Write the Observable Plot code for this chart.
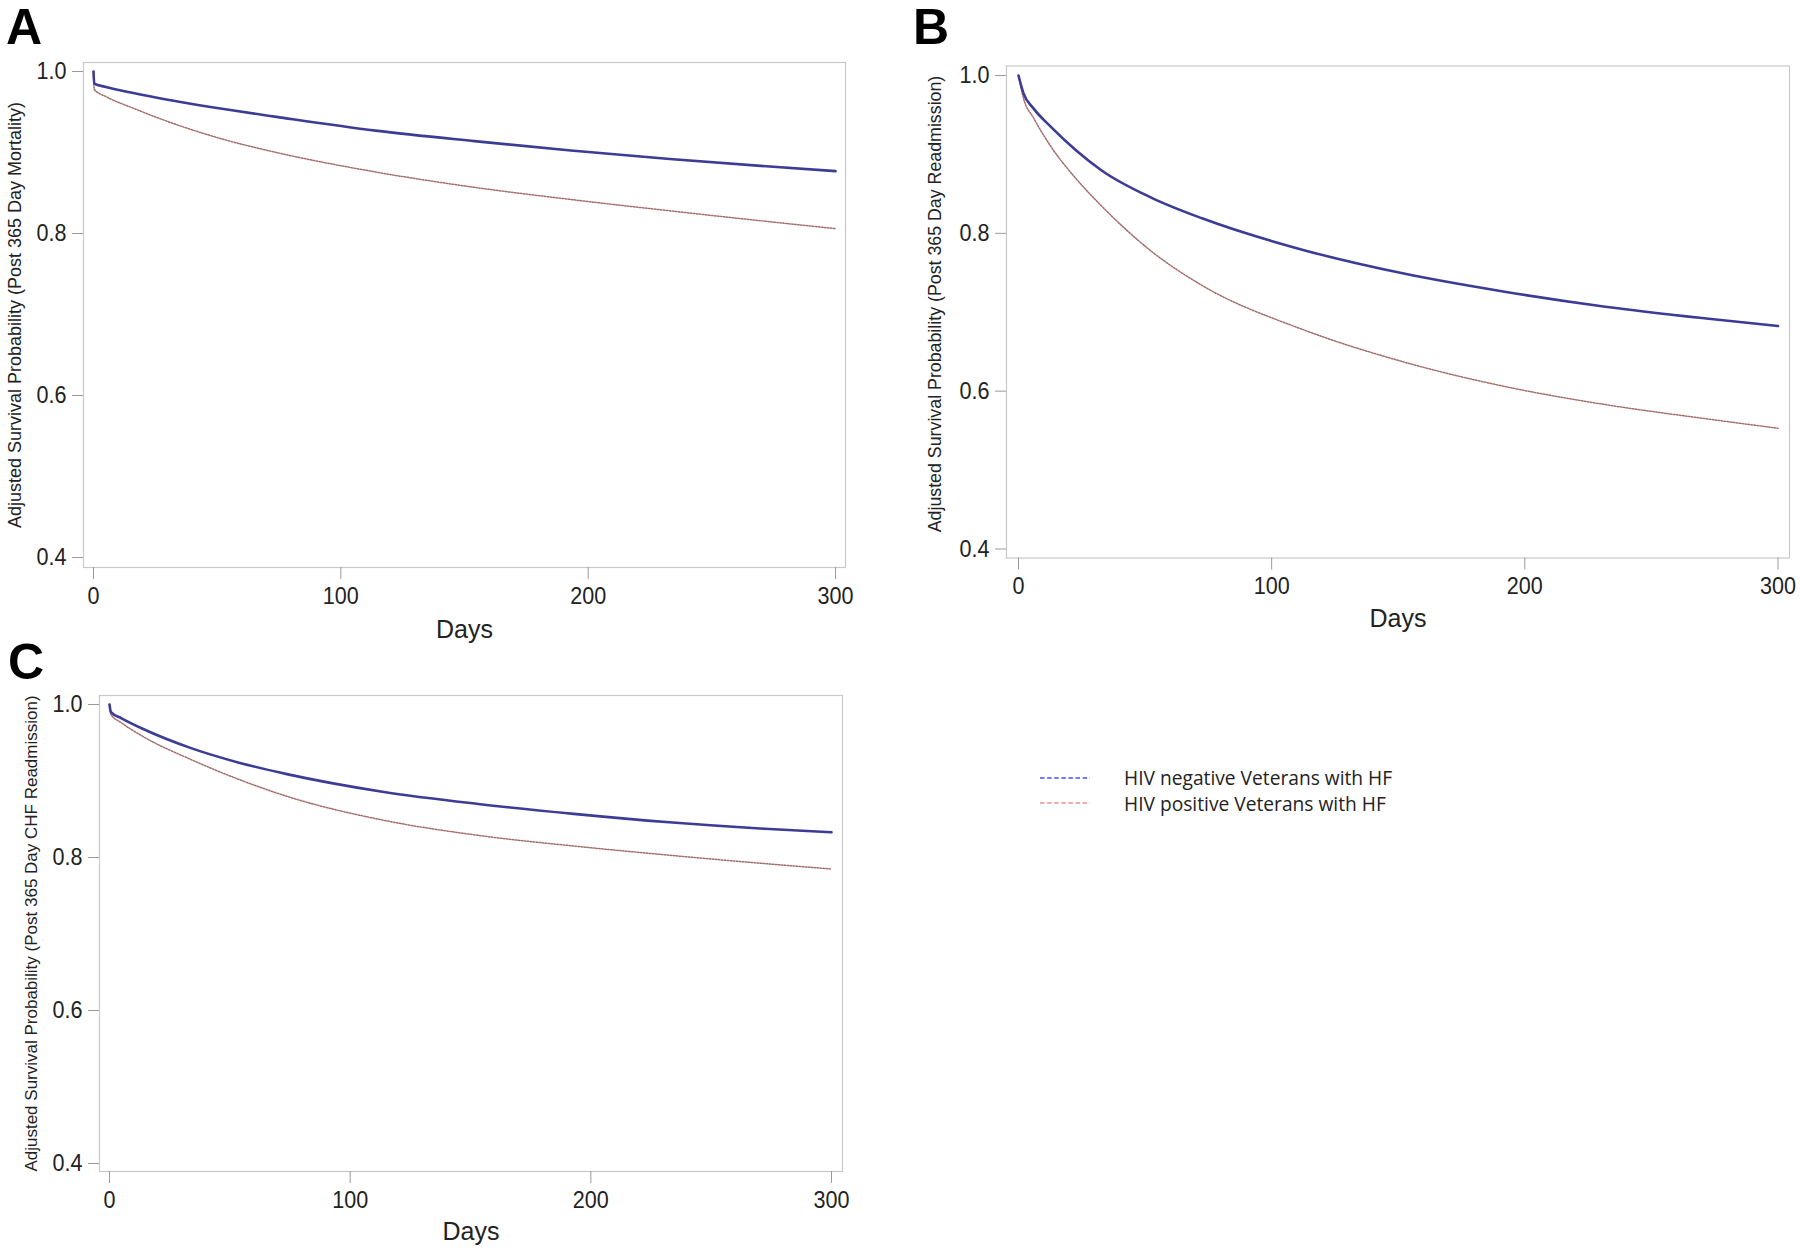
<!DOCTYPE html>
<html><head><meta charset="utf-8">
<script src="https://cdn.jsdelivr.net/npm/d3@7"></script>
<script src="https://cdn.jsdelivr.net/npm/@observablehq/plot@0.6"></script>
<style>
body{margin:0;background:#fff;}
#root{position:relative;width:1800px;height:1248px;overflow:hidden;background:#fff;}
.panel{position:absolute;}
.letter{position:absolute;font:bold 50px 'Liberation Sans',Arial,sans-serif;line-height:50px;color:#000;}
.legrow{position:absolute;display:flex;align-items:center;height:24px;font-family:'Open Sans',sans-serif;font-size:19.2px;color:#222;white-space:nowrap;}
.legrow svg{margin-right:34px;}
</style></head><body><div id="root"></div><script>
// ---- data ----
const ticksX = [0, 100, 200, 300];
const ticksY = [0.4, 0.6, 0.8, 1.0];
const seriesNames = ["HIV negative Veterans with HF", "HIV positive Veterans with HF"];
const panelLetters = ["A", "B", "C"];
const yLabels = [
  "Adjusted Survival Probability (Post 365 Day Mortality)",
  "Adjusted Survival Probability (Post 365 Day Readmission)",
  "Adjusted Survival Probability (Post 365 Day CHF Readmission)"
];
const xLabel = "Days";

const daysA   = [0, 0.3, 5, 15, 34, 54, 74, 114, 154, 193, 233, 272, 300];
const hivNegA = [1.0, 0.985, 0.981, 0.974, 0.963, 0.953, 0.944, 0.927, 0.914, 0.9025, 0.892, 0.883, 0.877];
const hivPosA = [1.0, 0.978, 0.969, 0.956, 0.934, 0.915, 0.900, 0.876, 0.857, 0.842, 0.828, 0.815, 0.806];

const daysB   = [0, 1.9, 6, 12.8, 22.8, 32.7, 52.6, 72.5, 112.4, 152.2, 192, 231.8, 271.7, 300];
const hivNegB = [1.0, 0.978, 0.958, 0.935, 0.905, 0.880, 0.845, 0.819, 0.779, 0.749, 0.726, 0.707, 0.692, 0.6825];
const hivPosB = [1.0, 0.972, 0.946, 0.910, 0.869, 0.835, 0.777, 0.734, 0.678, 0.637, 0.606, 0.583, 0.565, 0.553];

const daysC   = [0, 0.6, 5, 14, 33.9, 53.8, 73.7, 113.4, 153.1, 192.9, 232.6, 272.3, 300];
const hivNegC = [1.0, 0.990, 0.982, 0.968, 0.943, 0.924, 0.909, 0.886, 0.870, 0.857, 0.846, 0.8375, 0.833];
const hivPosC = [1.0, 0.987, 0.976, 0.958, 0.928, 0.902, 0.880, 0.849, 0.829, 0.815, 0.803, 0.792, 0.785];

// ---- layout ----
const baseFont = "'Liberation Sans',Arial,sans-serif";
const negColor = "#3c3c96", posColor = "#a46d6d";

const panels = [
  {days: daysA, neg: hivNegA, pos: hivPosA, ylabel: yLabels[0], letter: panelLetters[0],
   left: 0, top: 0, width: 880, height: 650, mL: 83, mR: 35, mT: 62, mB: 83,
   iL: 10, iR: 10, iT: 9, iB: 10, ylDx: -68, ylDy: 0, ylSize: 18, dDy: 62, letterLeft: 6, letterTop: 2},
  {days: daysB, neg: hivNegB, pos: hivPosB, ylabel: yLabels[1], letter: panelLetters[1],
   left: 900, top: 0, width: 900, height: 640, mL: 106, mR: 11, mT: 65.5, mB: 82.5,
   iL: 12, iR: 11.5, iT: 9.5, iB: 9, ylDx: -71.5, ylDy: -8, ylSize: 17.8, dDy: 61, letterLeft: 913, letterTop: 2},
  {days: daysC, neg: hivNegC, pos: hivPosC, ylabel: yLabels[2], letter: panelLetters[2],
   left: 0, top: 640, width: 880, height: 608, mL: 99, mR: 38, mT: 55, mB: 77,
   iL: 10, iR: 11, iT: 9, iB: 8, ylDx: -68, ylDy: 0, ylSize: 17, dDy: 60, letterLeft: 8, letterTop: 637}
];

const root = document.getElementById("root");

function condense(svg, selector, k) {
  svg.querySelectorAll(selector).forEach(t => {
    const tr = t.getAttribute("transform");
    if (tr && tr.includes("translate")) t.setAttribute("transform", tr + ` scale(${k},1)`);
  });
}

for (const p of panels) {
  const negData = p.days.map((d, i) => ({day: d, v: p.neg[i], g: seriesNames[0]}));
  const posData = p.days.map((d, i) => ({day: d, v: p.pos[i], g: seriesNames[1]}));
  const chart = Plot.plot({
    width: p.width, height: p.height,
    marginLeft: p.mL, marginRight: p.mR, marginTop: p.mT, marginBottom: p.mB,
    style: {fontFamily: baseFont, background: "transparent", overflow: "visible"},
    x: {domain: [0, 300], insetLeft: p.iL, insetRight: p.iR},
    y: {domain: [0.4, 1.0], insetTop: p.iT, insetBottom: p.iB},
    marks: [
      Plot.frame({stroke: "#c8c8c8", strokeWidth: 1.2}),
      Plot.axisX(ticksX, {tickSize: 12, tickPadding: 7, fontSize: 24.5, stroke: "#9a9a9a", fill: "#222",
        tickFormat: d => String(d), label: null}),
      Plot.axisY(ticksY, {tickSize: 11, tickPadding: 6, fontSize: 24.5, stroke: "#9a9a9a", fill: "#222",
        tickFormat: d3.format(".1f"), label: null}),
      Plot.line(posData, {x: "day", y: "v", stroke: posColor, strokeWidth: 1.5,
        strokeDasharray: "1.5,1.5", curve: "monotone-x"}),
      Plot.line(negData, {x: "day", y: "v", stroke: negColor, strokeWidth: 2.6, curve: "monotone-x"}),
      Plot.text([p.ylabel], {frameAnchor: "left", textAnchor: "middle", lineAnchor: "middle",
        dx: p.ylDx, dy: p.ylDy, rotate: -90, fontSize: p.ylSize, fill: "#222"}),
      Plot.text([xLabel], {frameAnchor: "bottom", textAnchor: "middle", lineAnchor: "middle",
        dy: p.dDy, fontSize: 25, fill: "#222", ariaLabel: "days-label"})
    ]
  });
  condense(chart, 'g[aria-label="x-axis tick label"] text, g[aria-label="y-axis tick label"] text', 0.88);
  condense(chart, 'g[aria-label="days-label"] text', 0.87);
  chart.classList.add("panel");
  chart.style.left = p.left + "px";
  chart.style.top = p.top + "px";
  root.appendChild(chart);

  const L = document.createElement("div");
  L.className = "letter";
  L.textContent = p.letter;
  L.style.left = p.letterLeft + "px";
  L.style.top = p.letterTop + "px";
  root.appendChild(L);
}

// ---- legend ----
const legendStyles = [
  {color: "#4b4bff", top: 765.7},
  {color: "#e8919b", top: 791}
];
seriesNames.forEach((name, i) => {
  const row = document.createElement("div");
  row.className = "legrow";
  row.style.left = "1040px";
  row.style.top = legendStyles[i].top + "px";
  row.innerHTML = `<svg width="50" height="10"><line x1="0" x2="50" y1="5" y2="5" stroke="${legendStyles[i].color}" stroke-width="1.6" stroke-dasharray="4.5,2.6"/></svg><span>${name}</span>`;
  root.appendChild(row);
});
</script></body></html>
